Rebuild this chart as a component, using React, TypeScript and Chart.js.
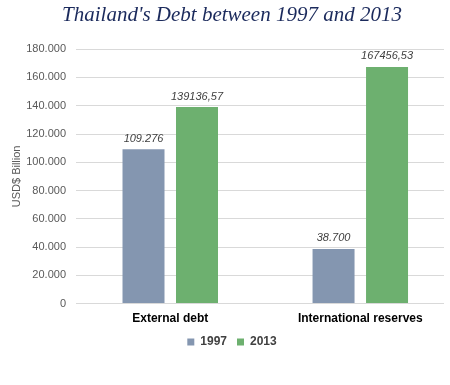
import React, { useEffect, useRef } from "react";
import { Chart, registerables } from "chart.js";

Chart.register(...registerables);

const titleText = "Thailand's Debt between 1997 and 2013";
const categories = ["External debt", "International reserves"];
const seriesNames = ["1997", "2013"];
const values1997 = [109276, 38700];
const values2013 = [139136.57, 167456.53];
const labels1997 = ["109.276", "38.700"];
const labels2013 = ["139136,57", "167456,53"];
const yTicks = [0, 20000, 40000, 60000, 80000, 100000, 120000, 140000, 160000, 180000];
const yAxisTitle = "USD$ Billion";

const dataLabelPlugin = {
  id: "dataLabels",
  afterDatasetsDraw(chart: any) {
    const ctx = chart.ctx;
    const allLabels = [labels1997, labels2013];
    ctx.save();
    ctx.font = "italic 11px 'Liberation Sans', Arial, sans-serif";
    ctx.fillStyle = "#404040";
    ctx.textAlign = "center";
    ctx.textBaseline = "bottom";
    chart.data.datasets.forEach((ds: any, di: number) => {
      const meta = chart.getDatasetMeta(di);
      meta.data.forEach((el: any, i: number) => {
        ctx.fillText(allLabels[di][i], el.x, el.y - 5);
      });
    });
    ctx.restore();
  },
};

export default function App() {
  const ref = useRef<HTMLCanvasElement | null>(null);
  useEffect(() => {
    document.body.style.margin = "0";
    const canvas = ref.current!;
    const chart = new Chart(canvas, {
      type: "bar",
      data: {
        datasets: [
          {
            label: seriesNames[0],
            data: values1997.map((v, i) => ({ x: i, y: v })),
            backgroundColor: "#8496B0",
            categoryPercentage: 0.563,
            barPercentage: 0.785,
          },
          {
            label: seriesNames[1],
            data: values2013.map((v, i) => ({ x: i, y: v })),
            backgroundColor: "#6DB06F",
            categoryPercentage: 0.563,
            barPercentage: 0.785,
          },
        ] as any,
      },
      options: {
        animation: false,
        responsive: false,
        layout: { padding: { left: 20, right: 6, top: 0, bottom: 27 } },
        plugins: {
          title: {
            display: true,
            text: titleText,
            color: "#1B2A5C",
            font: { family: "'Liberation Serif', serif", style: "italic", size: 21, weight: "normal" },
            padding: { top: 3, bottom: 21 },
          },
          legend: {
            position: "bottom",
            labels: {
              boxWidth: 7,
              boxHeight: 7,
              color: "#404040",
              font: { family: "'Liberation Sans', Arial, sans-serif", size: 12, weight: "bold" },
              padding: 10,
            },
          },
          tooltip: { enabled: false },
        },
        scales: {
          x: {
            type: "linear",
            offset: false,
            min: -0.496,
            max: 1.4405,
            grid: { display: false },
            border: { display: false },
            afterBuildTicks: (scale: any) => {
              scale.ticks = categories.map((_, i) => ({ value: i }));
            },
            ticks: {
              callback: (v: any) => categories[Math.round(Number(v))] ?? "",
              color: "#000000",
              font: { family: "'Liberation Sans', Arial, sans-serif", size: 12, weight: "bold" },
              padding: 0,
              maxRotation: 0,
              autoSkip: false,
            },
          },
          y: {
            min: 0,
            max: 180000,
            afterBuildTicks: (scale: any) => {
              scale.ticks = yTicks.map((v) => ({ value: v }));
            },
            afterFit: (scale: any) => {
              scale.width = 56;
            },
            grid: { color: "#D9D9D9", drawTicks: false },
            border: { display: false },
            ticks: {
              callback: (v: any) => Number(v).toLocaleString("de-DE"),
              color: "#595959",
              font: { family: "'Liberation Sans', Arial, sans-serif", size: 11 },
              padding: 10,
            },
            title: {
              display: true,
              text: yAxisTitle,
              color: "#595959",
              font: { family: "'Liberation Sans', Arial, sans-serif", size: 11 },
              padding: { top: -10, bottom: 0 },
            },
          },
        },
      } as any,
      plugins: [dataLabelPlugin],
    });
    return () => chart.destroy();
  }, []);
  return (
    <div style={{ position: "absolute", left: 0, top: 0, width: 450, height: 385, background: "#fff" }}>
      <canvas ref={ref} width={450} height={385} />
    </div>
  );
}
